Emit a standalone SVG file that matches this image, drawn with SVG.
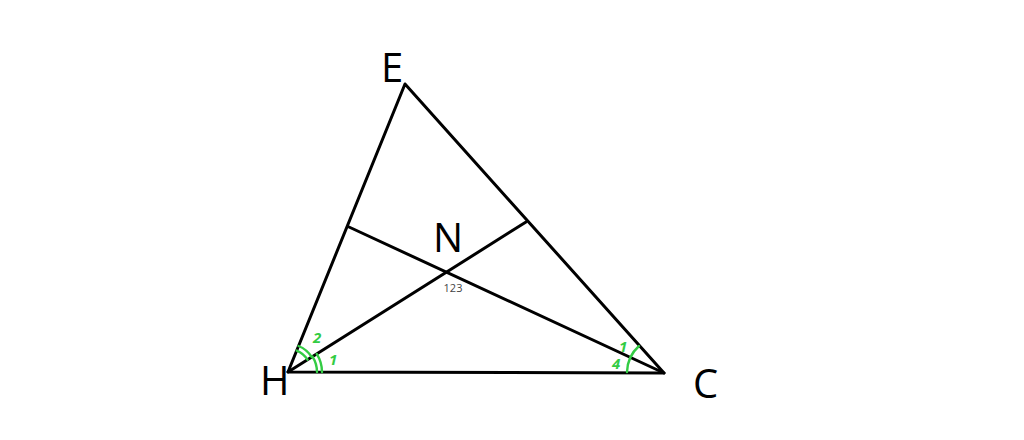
<svg xmlns="http://www.w3.org/2000/svg" width="1024" height="440" viewBox="0 0 1024 440">
<style>
.ln{stroke:#000;stroke-width:3;fill:none;stroke-linecap:round;stroke-linejoin:round}
.arc{stroke:#33cc44;stroke-width:2.4;fill:none;stroke-linecap:round}
.lbl{font-family:"Open Sans","Noto Sans",sans-serif;font-size:40px;fill:#000}
.ang{font-family:"Open Sans","Noto Sans",sans-serif;font-size:15px;font-weight:bold;fill:#33cc44;font-style:italic}
.sm{font-family:"Open Sans","Noto Sans",sans-serif;font-size:11px;fill:#444}
</style>
<rect width="1024" height="440" fill="#fff"/>
<g id="connectors">
<path class="ln" d="M288 372 L405 84 L664 373 Z"/>
<line class="ln" x1="288" y1="372" x2="526" y2="222"/>
<line class="ln" x1="664" y1="373" x2="349" y2="227"/>
</g>
<g id="node-E"><text class="lbl" x="381" y="82">E</text></g>
<g id="node-H"><text class="lbl" x="260" y="395">H</text></g>
<g id="node-C"><text class="lbl" x="693" y="398">C</text></g>
<g id="node-N"><text class="lbl" x="433" y="252">N</text><text class="sm" x="453" y="292" text-anchor="middle">123</text></g>
<g id="angles">
<path class="arc" d="M296.7 350.6 A23 23 0 0 1 307.5 359.7"/>
<path class="arc" d="M298.5 346 A28 28 0 0 1 311.7 357"/>
<path class="arc" d="M312.5 356.6 A29 29 0 0 1 317 372"/>
<path class="arc" d="M316.7 353.9 A34 34 0 0 1 322 372"/>
<path class="arc" d="M627 372 A36 36 0 0 1 639 346"/>
<text class="ang" x="313" y="343">2</text>
<text class="ang" x="329" y="365">1</text>
<text class="ang" x="619" y="352">1</text>
<text class="ang" x="612" y="369">4</text>
</g>
</svg>
